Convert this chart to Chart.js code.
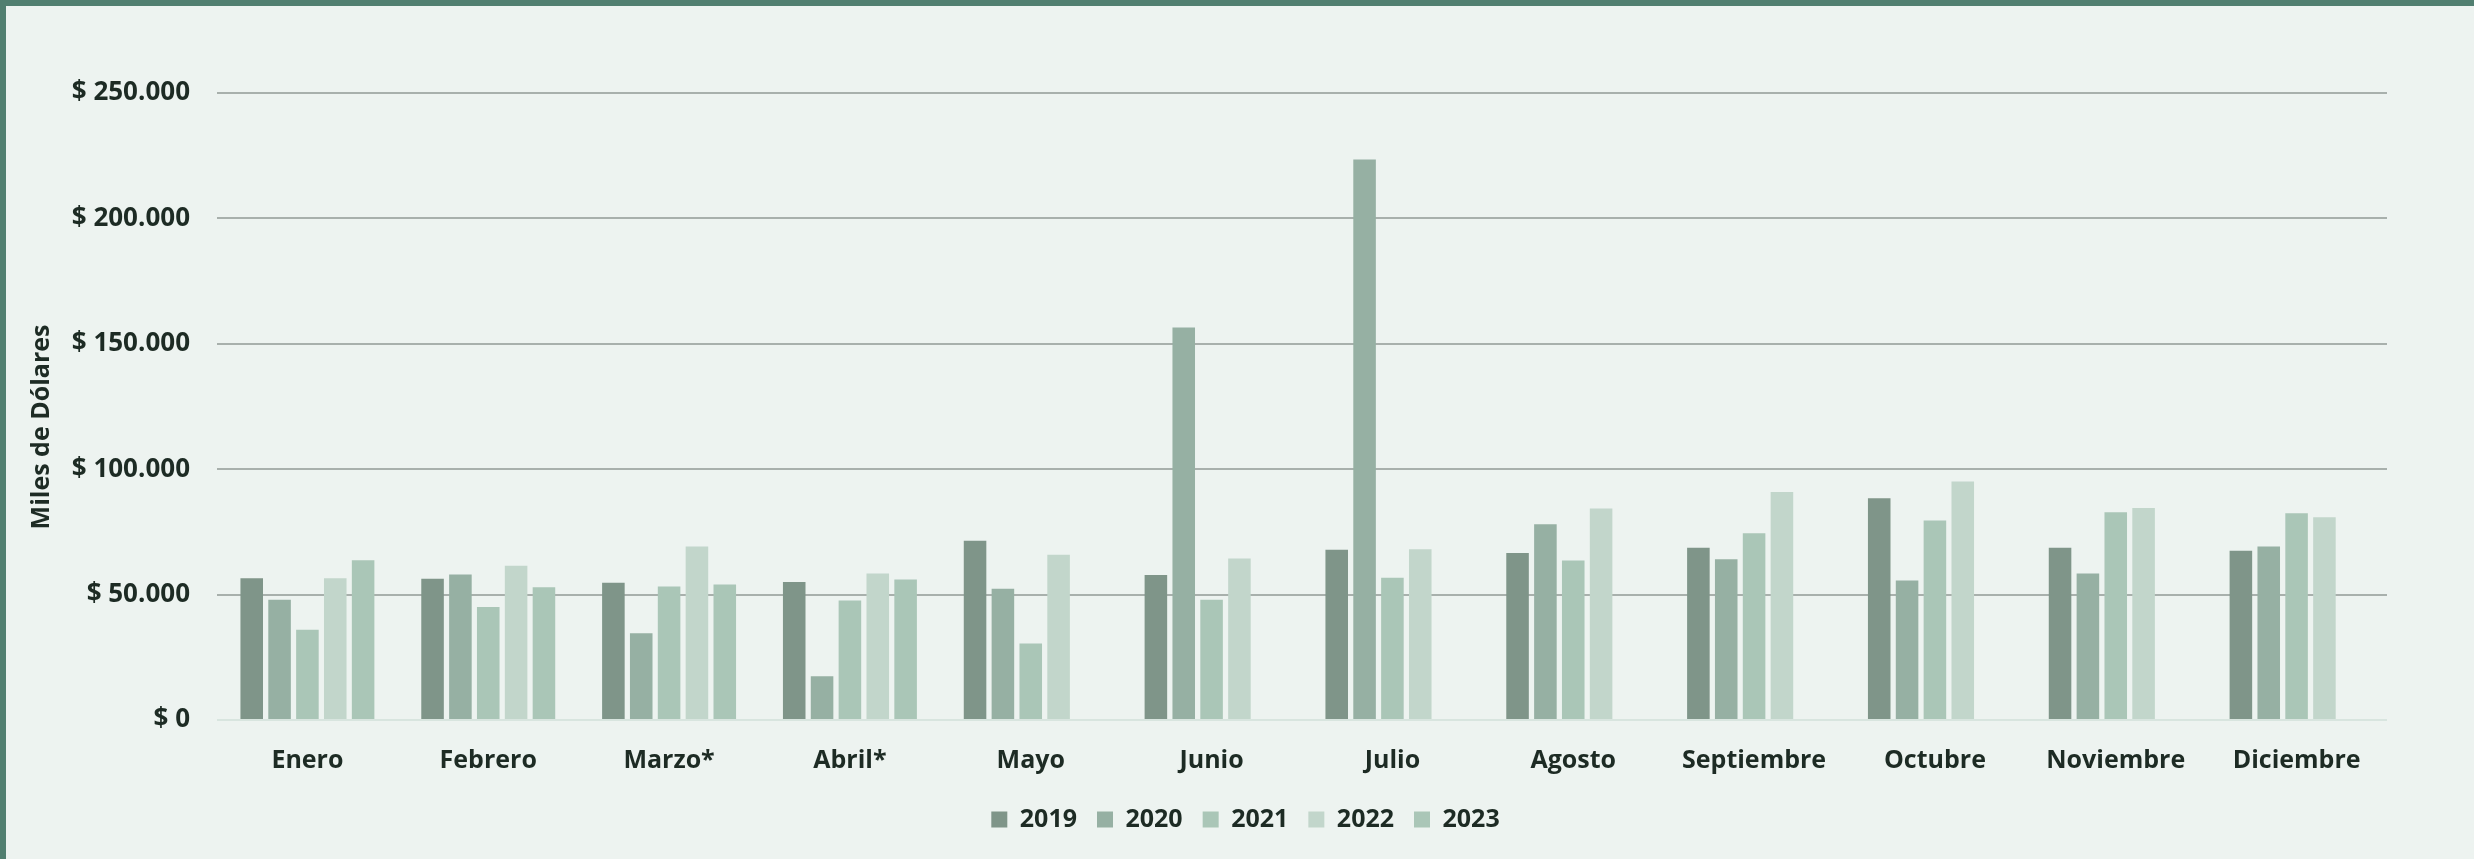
<!DOCTYPE html>
<html lang="es">
<head>
<meta charset="utf-8">
<title>Miles de Dólares por mes</title>
<script src="https://cdn.jsdelivr.net/npm/chart.js@4/dist/chart.umd.min.js"></script>
<style>
    html, body {
        margin: 0;
        padding: 0;
        background: #edf3f0;
    }
    .frame {
        width: 2468px;
        height: 853px;
        border-top: 6px solid #517f70;
        border-left: 6px solid #517f70;
        background: #edf3f0;
    }
    canvas {
        display: block;
    }
</style>
</head>
<body>
<div class="frame">
    <canvas id="monthly-chart" width="2468" height="853"></canvas>
</div>
<script>
// Categories and values (miles de dólares)
const months = ['Enero', 'Febrero', 'Marzo*', 'Abril*', 'Mayo', 'Junio', 'Julio',
    'Agosto', 'Septiembre', 'Octubre', 'Noviembre', 'Diciembre'];

const years = ['2019', '2020', '2021', '2022', '2023'];

const values2019 = [56500, 56300, 54700, 55000, 71500, 57800, 67900, 66600, 68700, 88400, 68700, 67500];
const values2020 = [47900, 58000, 34600, 17400, 52300, 156500, 223500, 78100, 64100, 55600, 58400, 69200];
const values2021 = [36000, 45100, 53200, 47600, 30500, 47900, 56700, 63600, 74500, 79500, 82800, 82400];
const values2022 = [56500, 61500, 69200, 58400, 65900, 64400, 68100, 84300, 90900, 95100, 84500, 80800];
const values2023 = [63700, 52900, 54000, 56000, null, null, null, null, null, null, null, null];

const yTicks = [0, 50000, 100000, 150000, 200000, 250000];

const seriesColors = ['#7f9589', '#96b0a3', '#aac6b7', '#c2d6cb', '#aac6b7'];

const textColor = '#1d2b24';
const fontFamily = '"Open Sans", Lato, sans-serif';
const axisTitle = 'Miles de Dólares';

/**
 * Format a value as "$ 250.000"
 */
function formatDollars(value) {
    const digits = String(Math.round(value)).replace(/\B(?=(\d{3})+(?!\d))/g, '.');
    return '$ ' + digits;
}

// Y axis title, drawn a bit lower than the scale centre like the original
const axisTitlePlugin = {
    id: 'axisTitle',
    afterDraw(chart) {
        const c = chart.ctx;
        c.save();
        c.translate(36, 421);
        c.rotate(-Math.PI / 2);
        c.font = `bold 25px ${fontFamily}`;
        c.fillStyle = textColor;
        c.textAlign = 'center';
        c.textBaseline = 'middle';
        c.fillText(axisTitle, 0, 0);
        c.restore();
    }
};

// Legend is centred on the whole picture, not on the padded box
const legendShiftPlugin = {
    id: 'legendShift',
    afterLayout(chart) {
        const legend = chart.legend;
        if (legend) {
            legend.left += 49;
            legend.right += 49;
        }
    }
};

const seriesValues = [values2019, values2020, values2021, values2022, values2023];

const datasets = years.map((year, i) => ({
    label: year,
    data: seriesValues[i],
    backgroundColor: seriesColors[i],
    borderWidth: 0,
    categoryPercentage: 0.77,
    barPercentage: 0.81
}));

const ctx = document.getElementById('monthly-chart').getContext('2d');

new Chart(ctx, {
    type: 'bar',
    data: {
        labels: months,
        datasets: datasets
    },
    plugins: [axisTitlePlugin, legendShiftPlugin],
    options: {
        responsive: false,
        animation: false,
        layout: {
            padding: { top: 87, right: 87, bottom: 17, left: 0 }
        },
        plugins: {
            legend: {
                display: true,
                position: 'bottom',
                labels: {
                    boxWidth: 16,
                    boxHeight: 16,
                    padding: 20,
                    color: textColor,
                    font: { family: fontFamily, size: 25, weight: 'bold' }
                }
            },
            tooltip: { enabled: false }
        },
        scales: {
            x: {
                grid: { display: false, drawTicks: false },
                border: { display: false },
                ticks: {
                    padding: 26,
                    color: textColor,
                    font: { family: fontFamily, size: 25, weight: 'bold' },
                    maxRotation: 0
                },
                afterFit(scale) {
                    scale.height = 67;
                }
            },
            y: {
                min: 0,
                max: 250000,
                afterBuildTicks(scale) {
                    scale.ticks = yTicks.map(v => ({ value: v }));
                },
                grid: {
                    drawTicks: false,
                    lineWidth: 2,
                    color: c => (c.tick && c.tick.value === 0 ? '#d8e5df' : '#a8b0ac')
                },
                border: { display: false },
                ticks: {
                    padding: 27,
                    color: textColor,
                    font: { family: fontFamily, size: 26, weight: 'bold' },
                    callback: value => formatDollars(value)
                },
                afterFit(scale) {
                    scale.width = 211;
                }
            }
        }
    }
});
</script>
</body>
</html>
